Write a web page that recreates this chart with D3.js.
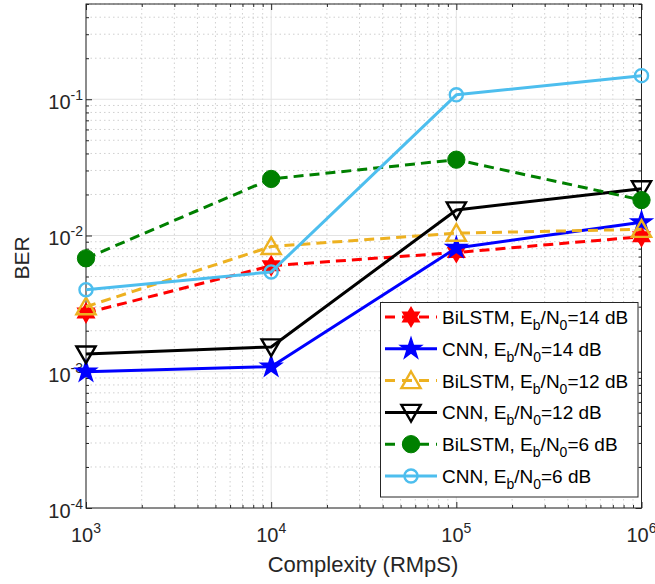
<!DOCTYPE html>
<html><head><meta charset="utf-8">
<script src="https://cdn.jsdelivr.net/npm/d3@7"></script>
<style>body{margin:0;background:#fff}svg{display:block}text{font-family:"Liberation Sans",Arial,sans-serif;fill:#262626}</style>
</head><body>
<svg id="c" width="655" height="584"></svg>
<script>
const complexity = [1e3, 1e4, 1e5, 1e6];
const bilstm14 = [0.0027, 0.0060, 0.0075, 0.0098];
const cnn14 = [0.00100, 0.00109, 0.0081, 0.0125];
const bilstm12 = [0.0030, 0.0083, 0.0104, 0.0111];
const cnn12 = [0.00135, 0.00152, 0.0154, 0.0220];
const bilstm6 = [0.0068, 0.0260, 0.0360, 0.0182];
const cnn6 = [0.0040, 0.0054, 0.1077, 0.149];
const xTicks = [1e3, 1e4, 1e5, 1e6];
const yTicks = [1e-4, 1e-3, 1e-2, 1e-1];

const series = [
  {name:"BiLSTM", snr:"14", vals:bilstm14, color:"#ff0000", dash:"10,6", marker:"hex", fill:true},
  {name:"CNN", snr:"14", vals:cnn14, color:"#0000ff", dash:null, marker:"star", fill:true},
  {name:"BiLSTM", snr:"12", vals:bilstm12, color:"#EDB120", dash:"10,6", marker:"tri", fill:false},
  {name:"CNN", snr:"12", vals:cnn12, color:"#000000", dash:null, marker:"tridown", fill:false},
  {name:"BiLSTM", snr:"6", vals:bilstm6, color:"#008000", dash:"10,6", marker:"circle", fill:true},
  {name:"CNN", snr:"6", vals:cnn6, color:"#4DBEEE", dash:null, marker:"ocircle", fill:false}
];

const svg = d3.select("#c");
const L=86, R=641.5, T=4, B=508;
const x = d3.scaleLog().domain([1e3,1e6]).range([L,R]);
const y = d3.scaleLog().domain([1e-4,0.5]).range([B,T]);

const xMinor=[], yMinor=[];
for (let d=1e3; d<1e6; d*=10) for (let k=2;k<=9;k++) xMinor.push(d*k);
for (let d=1e-4; d<0.5; d*=10) for (let k=2;k<=9;k++) if (d*k<=0.5) yMinor.push(d*k);

const g = svg.append("g");
g.selectAll(".xm").data(xMinor).join("line").attr("x1",d=>x(d)).attr("x2",d=>x(d)).attr("y1",T).attr("y2",B)
  .attr("stroke","#c4c4c4").attr("stroke-width",0.8).attr("stroke-dasharray","1.5,3");
g.selectAll(".ym").data(yMinor).join("line").attr("y1",d=>y(d)).attr("y2",d=>y(d)).attr("x1",L).attr("x2",R)
  .attr("stroke","#c4c4c4").attr("stroke-width",0.8).attr("stroke-dasharray","1.5,3");
g.selectAll(".xg").data(xTicks).join("line").attr("x1",d=>x(d)).attr("x2",d=>x(d)).attr("y1",T).attr("y2",B)
  .attr("stroke","#e3e3e3").attr("stroke-width",1);
g.selectAll(".yg").data(yTicks).join("line").attr("y1",d=>y(d)).attr("y2",d=>y(d)).attr("x1",L).attr("x2",R)
  .attr("stroke","#e3e3e3").attr("stroke-width",1);

const axC="#262626";
function ax(gen, tr){ const a=svg.append("g").attr("transform",tr).call(gen); a.selectAll("text").remove(); a.select(".domain").remove(); a.selectAll("line").attr("stroke",axC); return a;}
ax(d3.axisBottom(x).tickValues(xTicks).tickSize(-6), `translate(0,${B})`);
ax(d3.axisBottom(x).tickValues(xMinor).tickSize(-3), `translate(0,${B})`);
ax(d3.axisTop(x).tickValues(xTicks).tickSize(-6), `translate(0,${T})`);
ax(d3.axisTop(x).tickValues(xMinor).tickSize(-3), `translate(0,${T})`);
ax(d3.axisLeft(y).tickValues(yTicks).tickSize(-6), `translate(${L},0)`);
ax(d3.axisLeft(y).tickValues(yMinor).tickSize(-3), `translate(${L},0)`);
ax(d3.axisRight(y).tickValues(yTicks).tickSize(-6), `translate(${R},0)`);
ax(d3.axisRight(y).tickValues(yMinor).tickSize(-3), `translate(${R},0)`);
svg.append("rect").attr("x",L).attr("y",T).attr("width",R-L).attr("height",B-T).attr("fill","none").attr("stroke",axC).attr("stroke-width",1);

const FS=20, SS=14;
xTicks.forEach(v=>{
  const t=svg.append("text").attr("x",x(v)).attr("y",541.5).attr("text-anchor","middle").style("font-size",FS+"px");
  t.append("tspan").text("10");
  t.append("tspan").attr("dy",-9).style("font-size",SS+"px").text(Math.round(Math.log10(v)));
});
yTicks.forEach(v=>{
  const t=svg.append("text").attr("x",L-3).attr("y",y(v)+10).attr("text-anchor","end").style("font-size",FS+"px");
  t.append("tspan").text("10");
  t.append("tspan").attr("dy",-9).style("font-size",SS+"px").text(Math.round(Math.log10(v)));
});
svg.append("text").attr("x",363).attr("y",571.5).attr("text-anchor","middle").style("font-size","22px").text("Complexity (RMpS)");
svg.append("text").attr("transform","translate(28.5,258) rotate(-90)").attr("text-anchor","middle").style("font-size","21px").text("BER");

function markerPath(type){
  if (type==="hex"){
    const ro=9.5, ri=5.5; let p=[];
    for(let i=0;i<12;i++){const a=-Math.PI/2+i*Math.PI/6; const r=i%2?ri:ro; p.push([r*Math.cos(a), r*Math.sin(a)]);}
    return "M"+p.map(q=>q.join(",")).join("L")+"Z";
  }
  const sym = {star:d3.symbolStar, tri:d3.symbolTriangle, tridown:d3.symbolTriangle, circle:d3.symbolCircle, ocircle:d3.symbolCircle}[type];
  const size={star:135, tri:160, tridown:160, circle:235, ocircle:135}[type];
  return d3.symbol().type(sym).size(size)();
}
function drawMarker(sel, s, cx, cy){
  let tr=`translate(${cx},${cy})`;
  if (s.marker==="tridown") tr+=" rotate(180) translate(0,2)";
  if (s.marker==="tri") tr+=" translate(0,2)";
  return sel.append("path").attr("d",markerPath(s.marker)).attr("transform",tr)
    .attr("stroke",s.color).attr("stroke-width",s.marker==="circle"?1:(s.fill?1.5:2.4))
    .attr("fill",s.fill?s.color:"none").attr("stroke-linejoin","miter");
}

const line = d3.line().x((d,i)=>x(complexity[i])).y(d=>y(d));
series.forEach(s=>{
  const gs=svg.append("g");
  gs.append("path").attr("d",line(s.vals)).attr("fill","none").attr("stroke",s.color).attr("stroke-width",3)
    .attr("stroke-dasharray",s.dash).attr("stroke-linejoin","round");
  s.vals.forEach((v,i)=>drawMarker(gs,s,x(complexity[i]),y(v)));
});

const lg=svg.append("g");
lg.append("rect").attr("x",380.5).attr("y",302.5).attr("width",257.5).attr("height",194.5).attr("fill","#fff").attr("stroke","#262626").attr("stroke-width",1);
series.forEach((s,i)=>{
  const cy=317+i*31.8;
  lg.append("line").attr("x1",385).attr("x2",437).attr("y1",cy).attr("y2",cy).attr("stroke",s.color).attr("stroke-width",3)
    .attr("stroke-dasharray",s.dash?"10,7":null);
  drawMarker(lg,s,411,cy);
  const t=lg.append("text").attr("x",442).attr("y",cy+7).style("font-size","19px").style("fill","#000");
  t.append("tspan").text(s.name+", E");
  t.append("tspan").attr("dy",6).style("font-size","14px").text("b");
  t.append("tspan").attr("dy",-6).text("/N");
  t.append("tspan").attr("dy",6).style("font-size","14px").text("0");
  t.append("tspan").attr("dy",-6).text("="+s.snr+" dB");
});
</script>
</body></html>
